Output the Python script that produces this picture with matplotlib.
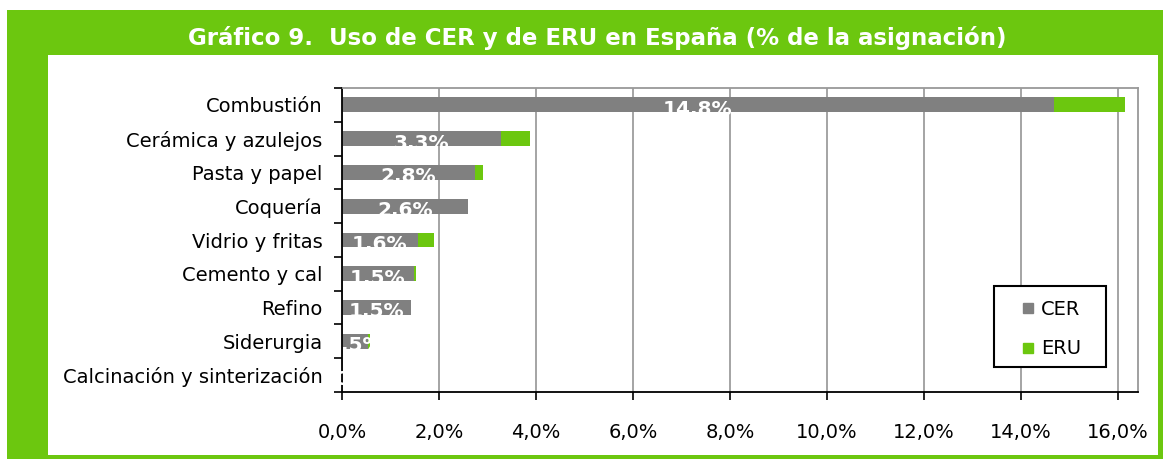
import matplotlib
matplotlib.use("Agg")
import matplotlib.pyplot as plt
from matplotlib.patches import Rectangle
from matplotlib.lines import Line2D
import numpy as np

categories = ['Combustión', 'Cerámica y azulejos', 'Pasta y papel', 'Coquería',
              'Vidrio y fritas', 'Cemento y cal', 'Refino', 'Siderurgia',
              'Calcinación y sinterización']
cer = [14.68, 3.28, 2.74, 2.60, 1.56, 1.48, 1.42, 0.54, 0.01]
eru = [1.48, 0.60, 0.17, 0.00, 0.34, 0.05, 0.00, 0.03, 0.00]
bar_labels = ['14.8%', '3.3%', '2.8%', '2.6%', '1.6%', '1.5%', '1.5%', '0.5%', '0.0%']
xticks = [0, 2, 4, 6, 8, 10, 12, 14, 16]
xtick_labels = ['0,0%', '2,0%', '4,0%', '6,0%', '8,0%', '10,0%', '12,0%', '14,0%', '16,0%']
title = 'Gráfico 9.  Uso de CER y de ERU en España (% de la asignación)'

GREEN = '#6CC70F'
GRAY = '#808080'
W, H = 1163, 459

plt.rcParams['font.family'] = ['DejaVu Sans']
fig = plt.figure(figsize=(W / 100, H / 100), dpi=100)

def fx(px):
    return px / W

def fy(py):
    return 1 - py / H

# frame
fig.patches.append(Rectangle((fx(7), fy(459)), fx(1163) - fx(7), fy(10) - fy(459),
                             transform=fig.transFigure, facecolor=GREEN, edgecolor='none', zorder=-3))
fig.patches.append(Rectangle((fx(48), fy(455)), fx(1158) - fx(48), fy(55) - fy(455),
                             transform=fig.transFigure, facecolor='white', edgecolor='none', zorder=-2))
fig.text(fx(597), fy(38), title, color='white', fontsize=16.5, fontweight='bold',
         ha='center', va='center')

ax = fig.add_axes([fx(342), fy(392), fx(1138) - fx(342), fy(88) - fy(392)])
ax.set_facecolor('none')
ax.set_zorder(1)

y = np.arange(len(categories))
h = 0.44
ax.barh(y, cer, height=h, color=GRAY, zorder=2, label='CER')
ax.barh(y, eru, left=cer, height=h, color=GREEN, zorder=2, label='ERU')

for yi, c, lab in zip(y, cer, bar_labels):
    ax.text(c / 2, yi - h / 2 + 0.07, lab, color='white', fontsize=14.5, fontweight='bold',
            ha='center', va='top', zorder=3, clip_on=False)

ax.set_xlim(0, 16.42)
ax.set_ylim(len(categories) - 0.5, -0.5)
ax.set_xticks(xticks)
ax.set_xticklabels(xtick_labels, fontsize=14)
ax.xaxis.grid(True, color='#8c8c8c', linewidth=1.1, zorder=1)
ax.set_axisbelow(True)

ax.set_yticks(np.arange(len(categories) + 1) - 0.5)
ax.set_yticklabels([])
ax.set_yticks(y, minor=True)
ax.set_yticklabels(categories, minor=True, fontsize=14)
ax.tick_params(axis='y', which='minor', length=0, pad=14)
ax.tick_params(axis='y', which='major', length=6, width=1.2, direction='out', color='black')
ax.tick_params(axis='x', length=6, width=1.2, direction='out', color='black', pad=16)
ax.yaxis.set_zorder(4)

for s in ['left', 'bottom']:
    ax.spines[s].set_color('black')
    ax.spines[s].set_linewidth(1.3)
for s in ['top', 'right']:
    ax.spines[s].set_color('#999999')
    ax.spines[s].set_linewidth(1.3)

# legend
fig.patches.append(Rectangle((fx(994), fy(367)), fx(1106) - fx(994), fy(286) - fy(367),
                             transform=fig.transFigure, facecolor='white', edgecolor='black',
                             linewidth=1.5, zorder=5))
handles = [Line2D([], [], marker='s', linestyle='none', markersize=7.5, color=GRAY),
           Line2D([], [], marker='s', linestyle='none', markersize=7.5, color=GREEN)]
leg = fig.legend(handles, ['CER', 'ERU'], loc='upper left',
                 bbox_to_anchor=(fx(1011), fy(290)), frameon=False, borderpad=0,
                 handlelength=0.75, handletextpad=0.3, labelspacing=1.06, fontsize=14)
leg.set_zorder(6)

fig.savefig('out.png', dpi=100)
